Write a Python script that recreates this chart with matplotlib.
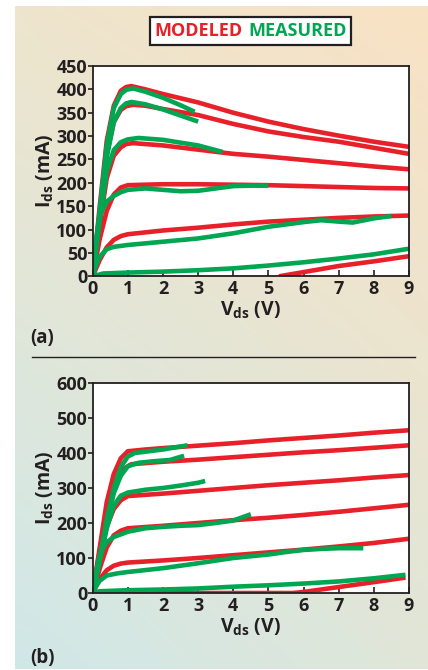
import matplotlib
matplotlib.use("Agg")
import matplotlib.pyplot as plt
import numpy as np

FONT = 'Open Sans'
plt.rcParams['font.family'] = [FONT, 'DejaVu Sans']
plt.rcParams['font.weight'] = 'bold'
plt.rcParams['mathtext.fontset'] = 'custom'
plt.rcParams['mathtext.bf'] = FONT + ':bold'
plt.rcParams['mathtext.rm'] = FONT + ':bold'
plt.rcParams['mathtext.it'] = FONT + ':bold'

RED = '#e8202a'
GREEN = '#00a651'
DARK = '#231f20'

# ---- panel (a): modeled curves (Vds in V, Ids in mA)
a_mod_x = [
    [0, 0.2, 0.4, 0.6, 0.8, 0.95, 1.1, 1.5, 2, 3, 4, 5, 6, 7, 8, 9],
    [0, 0.2, 0.4, 0.6, 0.8, 0.95, 1.15, 1.5, 2, 3, 4, 5, 6, 7, 8, 9],
    [0, 0.2, 0.4, 0.6, 0.8, 0.95, 1.15, 2, 3, 4, 5, 6, 7, 8, 9],
    [0, 0.2, 0.4, 0.6, 0.8, 1.0, 2, 3, 4, 5, 6, 7, 8, 9],
    [0, 0.2, 0.4, 0.6, 0.8, 1, 2, 3, 4, 5, 6, 7, 8, 9],
    [5.3, 6, 7, 8, 9],
]
a_mod_y = [
    [0, 150, 290, 365, 397, 405, 407, 400, 390, 372, 350, 331, 315, 301, 288, 277],
    [0, 130, 260, 330, 356, 364, 367, 365, 358, 345, 326, 310, 298, 288, 275, 262],
    [0, 110, 210, 258, 276, 283, 285, 280, 271, 262, 256, 249, 242, 235, 229],
    [0, 80, 140, 175, 190, 195, 197, 197, 196, 195, 193, 191, 189, 188],
    [0, 35, 62, 78, 86, 90, 98, 104, 111, 117, 121, 125, 128, 130],
    [0, 9, 22, 32, 43],
]
# ---- panel (a): measured curves
a_meas_x = [
    [0, 0.2, 0.4, 0.6, 0.8, 0.95, 1.15, 1.5, 2, 2.5, 2.9],
    [0, 0.2, 0.4, 0.6, 0.8, 0.95, 1.1, 1.5, 2, 2.5, 3],
    [0, 0.2, 0.4, 0.6, 0.8, 1.0, 1.3, 2, 3, 3.7],
    [0, 0.1, 0.2, 0.4, 0.6, 0.8, 1, 1.5, 2, 2.5, 3, 3.5, 4, 4.5, 5],
    [0, 0.1, 0.2, 0.4, 0.6, 1, 2, 3, 4, 5, 6, 6.5, 7, 7.4, 8, 8.5],
    [0, 0.3, 1, 2, 3, 4, 5, 6, 7, 8, 9],
]
a_meas_y = [
    [0, 140, 280, 360, 390, 399, 402, 395, 382, 366, 352],
    [0, 125, 255, 330, 360, 370, 373, 368, 357, 344, 331],
    [0, 120, 225, 270, 287, 293, 296, 292, 280, 266],
    [0, 80, 130, 160, 172, 180, 185, 188, 185, 182, 183, 188, 193, 194, 194],
    [0, 25, 42, 58, 63, 67, 74, 81, 92, 106, 116, 120, 117, 115, 124, 129],
    [0, 6, 8, 10, 13, 17, 23, 30, 38, 47, 59],
]

# ---- panel (b): modeled curves
b_mod_x = [
    [0, 0.2, 0.4, 0.6, 0.8, 1, 1.5, 2, 3, 4, 5, 6, 7, 8, 9],
    [0, 0.2, 0.4, 0.6, 0.8, 1.1, 2, 3, 4, 5, 6, 7, 8, 9],
    [0, 0.2, 0.4, 0.6, 0.8, 1, 2, 3, 4, 5, 6, 7, 8, 9],
    [0, 0.2, 0.4, 0.6, 0.8, 1, 2, 3, 4, 5, 6, 7, 8, 9],
    [0, 0.2, 0.4, 0.6, 0.8, 1, 2, 3, 4, 5, 6, 7, 8, 9],
    [0, 5.7, 6, 7, 8, 8.9],
]
b_mod_y = [
    [0, 130, 260, 340, 385, 405, 410, 414, 421, 428, 436, 443, 450, 458, 465],
    [0, 120, 240, 310, 350, 368, 375, 381, 388, 395, 402, 408, 415, 422],
    [0, 100, 190, 240, 265, 277, 284, 292, 300, 308, 315, 322, 330, 337],
    [0, 70, 130, 165, 178, 185, 192, 200, 208, 215, 223, 232, 242, 252],
    [0, 40, 65, 78, 84, 87, 93, 100, 108, 116, 124, 133, 143, 155],
    [0, 0, 3, 17, 31, 44],
]
# ---- panel (b): measured curves
b_meas_x = [
    [0, 0.2, 0.4, 0.6, 0.8, 1, 1.2, 1.6, 2, 2.4, 2.7],
    [0, 0.2, 0.4, 0.6, 0.8, 1, 1.3, 1.8, 2.2, 2.6],
    [0, 0.2, 0.4, 0.6, 0.8, 1, 1.5, 2, 2.5, 3, 3.2],
    [0, 0.1, 0.2, 0.4, 0.6, 1, 1.5, 2, 2.5, 3, 3.5, 4, 4.5],
    [0, 0.1, 0.2, 0.4, 0.7, 1, 2, 3, 4, 5, 5.5, 6, 6.5, 7, 7.7],
    [0, 0.2, 1, 2, 3, 4, 5, 6, 7, 8, 8.9],
]
b_meas_y = [
    [0, 100, 210, 300, 360, 390, 400, 405, 410, 417, 422],
    [0, 95, 200, 285, 335, 362, 372, 377, 380, 392],
    [0, 90, 185, 250, 278, 287, 295, 300, 307, 315, 320],
    [0, 60, 110, 145, 160, 175, 185, 189, 192, 194, 200, 207, 225],
    [0, 20, 35, 50, 56, 60, 71, 85, 100, 110, 117, 123, 126, 128, 128],
    [0, 5, 8, 10, 13, 18, 22, 27, 33, 42, 52],
]

x_ticks = list(range(10))
a_y_ticks = list(range(0, 451, 50))
b_y_ticks = list(range(0, 601, 100))

W, H = 428, 670
fig = plt.figure(figsize=(W / 100, H / 100), dpi=100)

# gradient backdrop panel
bg = fig.add_axes([15 / W, 1 - 669 / H, (W - 15) / W, 663 / H], zorder=-10)
tl = np.array([0xee, 0xe5, 0xcd]) / 255
tr = np.array([0xf9, 0xe2, 0xc4]) / 255
bl = np.array([0xd0, 0xe8, 0xe8]) / 255
br = np.array([0xe0, 0xe6, 0xd8]) / 255
u = np.linspace(0, 1, 120)[None, :, None]
v = np.linspace(0, 1, 200)[:, None, None]
grad = (1 - v) * ((1 - u) * tl + u * tr) + v * ((1 - u) * bl + u * br)
bg.imshow(grad, aspect='auto', interpolation='bilinear')
bg.axis('off')


def draw_panel(rect, mod_x, mod_y, meas_x, meas_y, yticks, ymax):
    ax = fig.add_axes(rect)
    ax.set_facecolor('white')
    red_line = green_line = None
    for xs, ys in zip(mod_x, mod_y):
        red_line, = ax.plot(xs, ys, color=RED, lw=3.3, solid_joinstyle='round',
                            solid_capstyle='butt')
    for xs, ys in zip(meas_x, meas_y):
        green_line, = ax.plot(xs, ys, color=GREEN, lw=3.3, solid_joinstyle='round',
                              solid_capstyle='butt')
    ax.set_xlim(0, 9)
    ax.set_ylim(0, ymax)
    ax.set_xticks(x_ticks)
    ax.set_yticks(yticks)
    ax.tick_params(axis='x', direction='in', length=4, width=1.2, color=DARK,
                   labelsize=13, pad=3, labelcolor=DARK)
    ax.tick_params(axis='y', direction='out', length=3.5, width=1.2, color=DARK,
                   labelsize=13, pad=0.5, labelcolor=DARK)
    for lab in ax.get_xticklabels() + ax.get_yticklabels():
        lab.set_fontweight('bold')
    for s in ax.spines.values():
        s.set_linewidth(1.3)
        s.set_color(DARK)
    ax.set_xlabel(r'$\mathbf{V_{ds}}$ (V)', fontsize=14, fontweight='bold',
                  color=DARK, labelpad=1)
    ax.set_ylabel(r'$\mathbf{I_{ds}}$ (mA)', fontsize=14, fontweight='bold',
                  color=DARK, labelpad=0)
    return ax, red_line, green_line


ax_a, red_h, green_h = draw_panel([92.7 / W, 1 - 276.3 / H, (409 - 92.7) / W, (276.3 - 66) / H],
                                  a_mod_x, a_mod_y, a_meas_x, a_meas_y, a_y_ticks, 450)
ax_b, _, _ = draw_panel([92.7 / W, 1 - 593 / H, (409 - 92.7) / W, (593 - 383) / H],
                        b_mod_x, b_mod_y, b_meas_x, b_meas_y, b_y_ticks, 600)

fig.text(30 / W, 1 - 338 / H, '(a)', fontsize=13.5, fontweight='bold', color=DARK,
         va='center', ha='left')
fig.text(30 / W, 1 - 658 / H, '(b)', fontsize=13.5, fontweight='bold', color=DARK,
         va='center', ha='left')
fig.add_artist(plt.Line2D([32 / W, 415 / W], [1 - 357 / H, 1 - 357 / H],
                          color=DARK, lw=1.0, transform=fig.transFigure))

leg = fig.legend([red_h, green_h], ['MODELED', 'MEASURED'], ncol=2,
                 loc='center', bbox_to_anchor=(250.5 / W, 1 - 31 / H),
                 handlelength=0, handletextpad=0, columnspacing=0.3,
                 fancybox=False, framealpha=1, edgecolor=DARK,
                 prop={'size': 13, 'weight': 'bold'},
                 borderpad=0.25, borderaxespad=0)
leg.get_frame().set_linewidth(1.6)
for ln in leg.get_lines():
    ln.set_visible(False)
for t, c in zip(leg.get_texts(), [RED, GREEN]):
    t.set_color(c)

fig.savefig('out.png', dpi=100)
